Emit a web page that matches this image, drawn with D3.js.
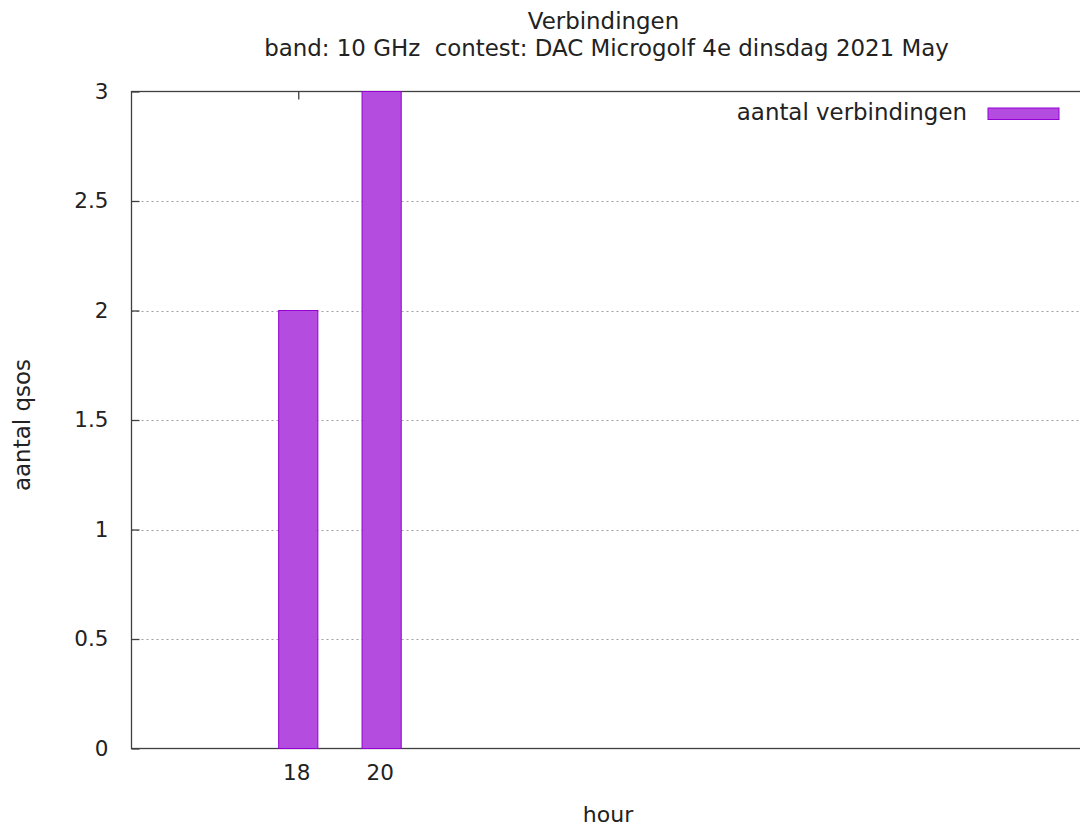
<!DOCTYPE html>
<html>
<head>
<meta charset="utf-8">
<script src="https://cdn.jsdelivr.net/npm/d3@7"></script>
<style>
  html, body { margin: 0; padding: 0; background: #fff; }
  svg { display: block; }
  text { font-family: "DejaVu Sans", sans-serif; fill: #222; white-space: pre; }
</style>
</head>
<body>
<script>
// ---- data ----
const hours = [18, 20];
const qsos = [2, 3];
const xTickValues = [18, 20];
const yTickValues = [0, 0.5, 1, 1.5, 2, 2.5, 3];
const titleLines = ["Verbindingen", "band: 10 GHz  contest: DAC Microgolf 4e dinsdag 2021 May"];
const seriesName = "aantal verbindingen";
const xLabel = "hour";
const yLabel = "aantal qsos";

(function () {
const W = 1080, H = 827;
const pLeft = 131.5, pRight = 1082, pTop = 91.5, pBottom = 748.5;
const titleFont = 22.9;
const labelFont = 22;
const tickFont = 21.5;

const svg = d3.select("body").append("svg").attr("width", W).attr("height", H);

const x = d3.scaleLinear().domain([14, 36.8]).range([pLeft, pRight]);
const y = d3.scaleLinear().domain([0, 3]).range([pBottom, pTop]);

// grid
const grid = svg.append("g");
yTickValues.filter(v => v > 0 && v < 3).forEach(v => {
  grid.append("line")
    .attr("x1", pLeft).attr("x2", pRight)
    .attr("y1", Math.round(y(v)) + 0.5).attr("y2", Math.round(y(v)) + 0.5)
    .attr("stroke", "#a0a0a0").attr("stroke-width", 1)
    .attr("stroke-dasharray", "2,3");
});

// border
svg.append("rect")
  .attr("x", pLeft).attr("y", pTop)
  .attr("width", pRight - pLeft).attr("height", pBottom - pTop)
  .attr("fill", "none").attr("stroke", "#404040").attr("stroke-width", 1.3);

// y axis (ticks inward)
const yAxis = d3.axisLeft(y).tickValues(yTickValues).tickSize(-8).tickPadding(23)
  .tickFormat(d3.format("~g"));
const gy = svg.append("g").attr("transform", `translate(${pLeft},0)`).call(yAxis);
gy.select(".domain").remove();
gy.selectAll(".tick line").attr("stroke", "#404040").attr("stroke-width", 1.3);
gy.selectAll(".tick text").attr("font-size", tickFont).attr("font-family", "DejaVu Sans").attr("fill", "#222");

// x axis (ticks inward, mirrored)
const xAxis = d3.axisBottom(x).tickValues(xTickValues).tickSize(-8).tickPadding(16)
  .tickFormat(d3.format("d"));
const gx = svg.append("g").attr("transform", `translate(0,${pBottom})`).call(xAxis);
gx.select(".domain").remove();
gx.selectAll(".tick line").attr("stroke", "#404040").attr("stroke-width", 1.3);
gx.selectAll(".tick text").attr("font-size", tickFont).attr("font-family", "DejaVu Sans").attr("fill", "#222")
  .attr("dx", -2);

const xTop = d3.axisTop(x).tickValues(xTickValues).tickSize(-8).tickFormat("");
const gxt = svg.append("g").attr("transform", `translate(0,${pTop})`).call(xTop);
gxt.select(".domain").remove();
gxt.selectAll(".tick line").attr("stroke", "#404040").attr("stroke-width", 1.3);

// bars
const boxWidth = 0.94;
svg.append("g").selectAll("rect").data(hours).join("rect")
  .attr("x", (d) => x(d - boxWidth / 2))
  .attr("width", x(boxWidth) - x(0))
  .attr("y", (d, i) => y(qsos[i]))
  .attr("height", (d, i) => y(0) - y(qsos[i]))
  .attr("fill", "#b44ce0")
  .attr("stroke", "#9400d3")
  .attr("stroke-width", 1);

// titles
svg.append("text").attr("x", 603.5).attr("y", 29).attr("text-anchor", "middle")
  .attr("font-size", titleFont).text(titleLines[0]);
svg.append("text").attr("x", 606.5).attr("y", 56).attr("text-anchor", "middle")
  .attr("font-size", titleFont).text(titleLines[1]);

// axis labels
svg.append("text").attr("x", 608).attr("y", 822).attr("text-anchor", "middle")
  .attr("font-size", labelFont).text(xLabel);
svg.append("text").attr("transform", `translate(30,425) rotate(-90)`)
  .attr("text-anchor", "middle").attr("font-size", 23).text(yLabel);

// legend
svg.append("text").attr("x", 967).attr("y", 120).attr("text-anchor", "end")
  .attr("font-size", titleFont).text(seriesName);
svg.append("rect").attr("x", 988).attr("y", 108).attr("width", 71).attr("height", 11.5)
  .attr("fill", "#b44ce0").attr("stroke", "#9400d3").attr("stroke-width", 1);
})();
</script>
</body>
</html>
